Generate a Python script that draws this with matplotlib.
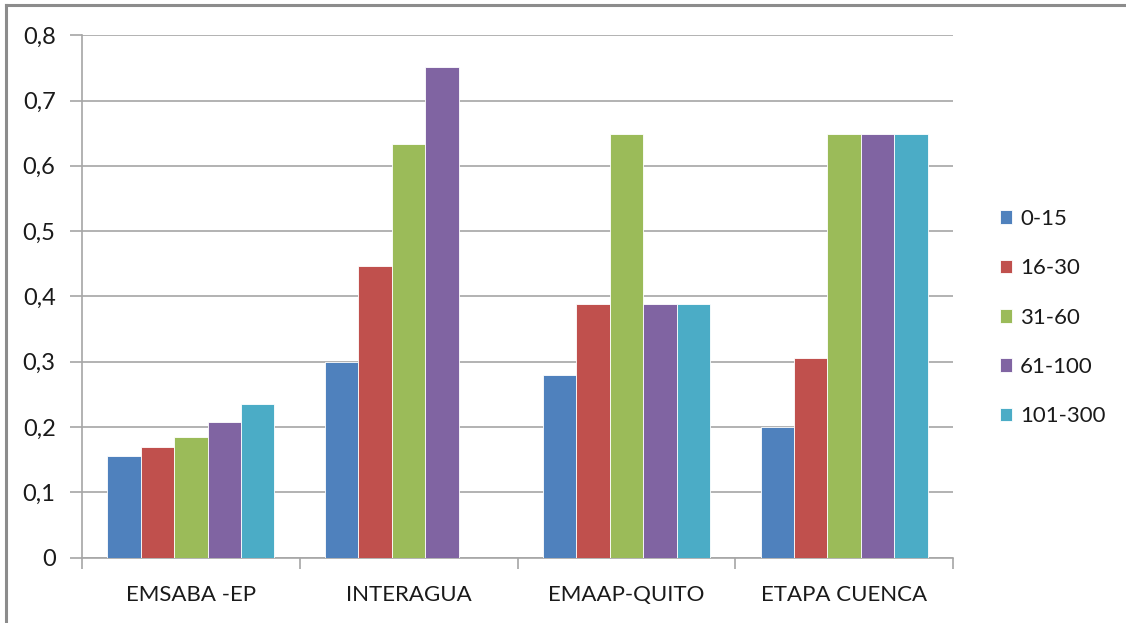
import matplotlib
matplotlib.use("Agg")
import matplotlib.pyplot as plt
import numpy as np
from matplotlib.lines import Line2D
from matplotlib.ticker import FuncFormatter, MultipleLocator

categories = ["EMSABA -EP", "INTERAGUA", "EMAAP-QUITO", "ETAPA CUENCA"]
series_names = ["0-15", "16-30", "31-60", "61-100", "101-300"]
s_0_15 = [0.156, 0.300, 0.279, 0.200]
s_16_30 = [0.170, 0.447, 0.388, 0.305]
s_31_60 = [0.184, 0.633, 0.649, 0.649]
s_61_100 = [0.207, 0.752, 0.388, 0.649]
s_101_300 = [0.235, 0.0, 0.388, 0.649]
series_values = [s_0_15, s_16_30, s_31_60, s_61_100, s_101_300]
colors = ["#4F81BD", "#C0504D", "#9BBB59", "#8064A2", "#4BACC6"]

plt.rcParams['font.family'] = ['Lato', 'DejaVu Sans']

fig = plt.figure(figsize=(11.26, 6.23), dpi=100)
ax = fig.add_axes([82/1126, 1-557.6/623, (953-82)/1126, (557.6-35.2)/623])

x = np.arange(len(categories))
bw = 0.1536
for i, (name, vals) in enumerate(zip(series_names, series_values)):
    ax.bar(x + (i - 2) * bw, vals, width=bw, color=colors[i], label=name,
           edgecolor="white", linewidth=0.6, zorder=3)

ax.set_xlim(-0.5, len(categories) - 0.5)
ax.set_ylim(0, 0.8)
ax.yaxis.set_major_locator(MultipleLocator(0.1))
ax.yaxis.set_major_formatter(FuncFormatter(lambda v, p: "0" if abs(v) < 1e-9 else f"{v:.1f}".replace(".", ",")))
ax.grid(axis="y", color="#A6A6A6", linewidth=1.2, zorder=0)
for s in ["top", "right"]:
    ax.spines[s].set_visible(False)
ax.spines["left"].set_color("#A6A6A6")
ax.spines["bottom"].set_color("#A6A6A6")
ax.spines["left"].set_linewidth(1.2)
ax.spines["bottom"].set_linewidth(1.2)

ax.set_xticks(np.arange(-0.5, len(categories)), minor=False)
ax.set_xticklabels([])
ax.set_xticks(x, minor=True)
ax.set_xticklabels(categories, minor=True)
ax.tick_params(axis="x", which="major", length=8, color="#A6A6A6", width=1.2)
ax.tick_params(axis="x", which="minor", length=0, pad=20, labelsize=16, labelcolor="#1a1a1a")
ax.tick_params(axis="y", length=9, color="#A6A6A6", width=1.2, pad=10, labelsize=17, labelcolor="#1a1a1a")

leg = fig.legend(loc="upper left", bbox_to_anchor=(980/1126, 1-189/623), frameon=False,
                 fontsize=16, handlelength=0.55, handleheight=0.55, handletextpad=0.35,
                 labelspacing=1.32, labelcolor="#1a1a1a")

fig.add_artist(Line2D([6/1126, 1], [1-5/623, 1-5/623], color="#8C8C8C", linewidth=2.2, transform=fig.transFigure))
fig.add_artist(Line2D([6/1126, 6/1126], [0, 1-5/623], color="#8C8C8C", linewidth=2.2, transform=fig.transFigure))

fig.savefig("out.png", dpi=100)
